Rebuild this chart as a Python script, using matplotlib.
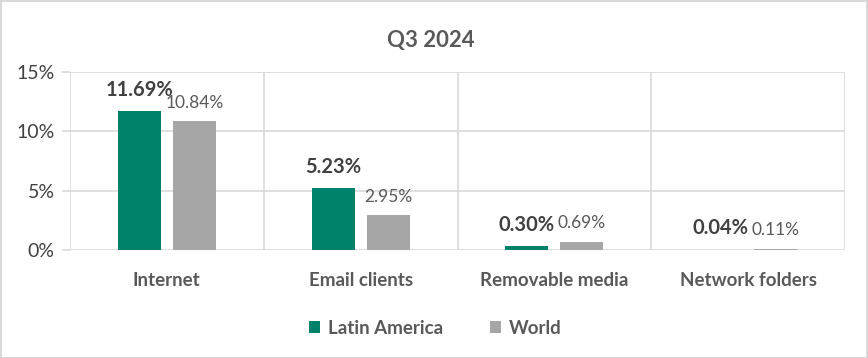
import matplotlib
matplotlib.use("Agg")
import matplotlib.pyplot as plt
from matplotlib.patches import Rectangle
import numpy as np

categories = ["Internet", "Email clients", "Removable media", "Network folders"]
latam = [11.69, 5.23, 0.30, 0.04]
world = [10.84, 2.95, 0.69, 0.11]
series_names = ["Latin America", "World"]
yticks = [0, 5, 10, 15]

GREEN = "#00826A"
GREY = "#A6A6A6"
TXT = "#595959"
LBL = "#404040"
GRID = "#D9D9D9"

plt.rcParams['font.family'] = ['Lato', 'DejaVu Sans']

fig = plt.figure(figsize=(8.68, 3.58), dpi=100)
ax = fig.add_axes([70/868, 1-250/358, 775/868, 178/358])

x = np.arange(len(categories))
w = 0.222
off = 0.142
b1 = ax.bar(x - off, latam, w, color=GREEN, label=series_names[0], zorder=3)
b2 = ax.bar(x + off, world, w, color=GREY, label=series_names[1], zorder=3)

for xi, v in zip(x, latam):
    ax.annotate(f"{v:.2f}%", (xi - off, v), xytext=(0, 8), textcoords="offset points",
                ha="center", va="bottom", fontsize=14.5, fontweight="bold", color=LBL)
for xi, v in zip(x, world):
    ax.annotate(f"{v:.2f}%", (xi + off, v), xytext=(0, 7.5), textcoords="offset points",
                ha="center", va="bottom", fontsize=12.5, color=TXT)

ax.set_xlim(-0.5, 3.5)
ax.set_ylim(0, 15)
ax.set_yticks(yticks)
ax.set_yticklabels([f"{t}%" for t in yticks], fontsize=14, color=LBL)
ax.set_xticks(x)
ax.set_xticklabels(categories, fontsize=13.5, fontweight="bold", color=TXT)
ax.tick_params(axis="x", length=0, pad=15.5)
ax.tick_params(axis="y", length=6, color=GRID, width=1.2, pad=5)

for yv in yticks:
    ax.axhline(yv, color=GRID, lw=1.2, zorder=1)
for xv in np.arange(-0.5, 4, 1):
    ax.axvline(xv, color=GRID, lw=1.2, zorder=1)
for s in ax.spines.values():
    s.set_visible(False)

fig.text(431/868, 1-40/358, "Q3 2024", fontsize=16, fontweight="bold", color=TXT,
         ha="center", va="center")

leg = fig.legend(handles=[b1, b2], labels=series_names, loc="center",
                 bbox_to_anchor=(435/868, 1-328/358), ncol=2, frameon=False,
                 fontsize=13.5, handlelength=0.6, handleheight=0.6, columnspacing=2.5,
                 handletextpad=0.4)
for t in leg.get_texts():
    t.set_color(TXT)
    t.set_fontweight("bold")

fig.patches.append(Rectangle((0.5/868, 0.5/358), 1-1.5/868, 1-1.5/358, transform=fig.transFigure,
                             fill=False, edgecolor=GRID, lw=1.5))

fig.savefig("out.png", dpi=100)
